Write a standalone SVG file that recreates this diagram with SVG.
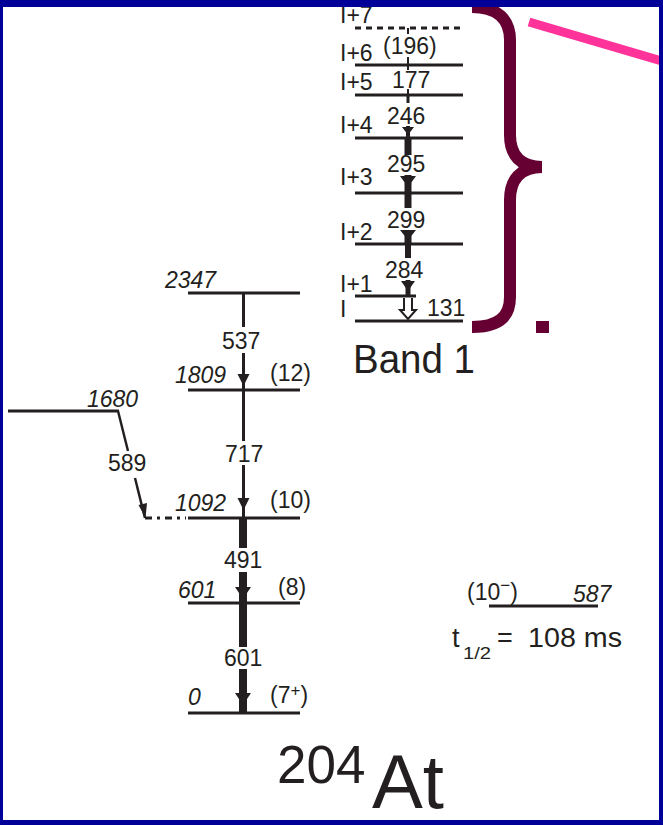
<svg xmlns="http://www.w3.org/2000/svg" width="663" height="825" viewBox="0 0 663 825">
<style>
text{font-family:"Liberation Sans",Arial,sans-serif;fill:#231f20}
.t{font-size:23px}
.e{font-size:23px;font-style:italic}
.lv{stroke:#231f20;stroke-width:3;fill:none}
.tr{stroke:#231f20;fill:none}
.ah{fill:#231f20}
</style>
<rect width="663" height="825" fill="#ffffff"/>

<g id="band1">
  <g id="level-I7"><line x1="355" y1="28" x2="463" y2="28" class="lv" stroke-dasharray="6 5"/><text class="t" x="340" y="23">I+7</text></g>
  <g id="level-I6"><line x1="355" y1="65" x2="463" y2="65" class="lv"/><text class="t" x="340" y="61">I+6</text></g>
  <g id="level-I5"><line x1="355" y1="95" x2="463" y2="95" class="lv"/><text class="t" x="340" y="90">I+5</text></g>
  <g id="level-I4"><line x1="355" y1="138" x2="463" y2="138" class="lv"/><text class="t" x="340" y="133">I+4</text></g>
  <g id="level-I3"><line x1="355" y1="193" x2="463" y2="193" class="lv"/><text class="t" x="340" y="185">I+3</text></g>
  <g id="level-I2"><line x1="355" y1="244" x2="463" y2="244" class="lv"/><text class="t" x="340" y="240">I+2</text></g>
  <g id="level-I1"><line x1="355" y1="296" x2="416" y2="296" class="lv"/><text class="t" x="340" y="292">I+1</text></g>
  <g id="level-I"><line x1="355" y1="321" x2="463" y2="321" class="lv"/><text class="t" x="340" y="317">I</text></g>
  <g id="band-label"><text x="353" y="373" font-size="40" textLength="122" lengthAdjust="spacingAndGlyphs">Band 1</text></g>
</g>

<g id="main">
  <g id="level-2347"><line x1="188" y1="293" x2="300" y2="293" class="lv"/><text class="e" x="165" y="288">2347</text></g>
  <g id="level-1809"><line x1="188" y1="390" x2="300" y2="390" class="lv"/><text class="e" x="175" y="383">1809</text><text class="t" x="270" y="381">(12)</text></g>
  <g id="level-1680"><line x1="8" y1="411" x2="119" y2="411" class="lv"/><text class="e" x="87" y="407">1680</text></g>
  <g id="level-1092"><line x1="188" y1="518" x2="300" y2="518" class="lv"/><line x1="145" y1="518" x2="186" y2="518" class="lv" stroke-dasharray="7 5 3 5"/><text class="e" x="175" y="511">1092</text><text class="t" x="270" y="508">(10)</text></g>
  <g id="level-601"><line x1="188" y1="603" x2="300" y2="603" class="lv"/><text class="e" x="178" y="598">601</text><text class="t" x="278" y="595">(8)</text></g>
  <g id="level-0"><line x1="188" y1="713" x2="300" y2="713" class="lv"/><text class="e" x="188" y="705">0</text><text class="t" x="270" y="703">(7<tspan font-size="17" dy="-7">+</tspan><tspan dy="7">)</tspan></text></g>
</g>

<g id="isomer">
  <line x1="489" y1="606" x2="598" y2="606" class="lv"/>
  <text class="t" x="467" y="600">(10<tspan font-size="17" dy="-9">−</tspan><tspan dy="9">)</tspan></text>
  <text class="e" x="573" y="602">587</text>
  <text x="452" y="647" font-size="27">t</text>
  <text x="463" y="659" font-size="17" textLength="28" lengthAdjust="spacingAndGlyphs">1/2</text>
  <text x="497" y="647" font-size="27">=</text>
  <text x="528" y="647" font-size="27" textLength="94" lengthAdjust="spacingAndGlyphs">108 ms</text>
</g>

<g id="connectors">
  <!-- band 1 -->
  <line x1="408" y1="28" x2="408" y2="34" class="tr" stroke-width="2"/>
  <line x1="408" y1="57" x2="408" y2="65" class="tr" stroke-width="2"/>
  <text class="t" x="383" y="54">(196)</text>
  <line x1="408" y1="65" x2="408" y2="70" class="tr" stroke-width="2"/>
  <line x1="408" y1="89" x2="408" y2="95" class="tr" stroke-width="2"/>
  <text class="t" x="392" y="88">177</text>
  <line x1="408" y1="95" x2="408" y2="103" class="tr" stroke-width="3"/>
  <line x1="408" y1="126" x2="408" y2="138" class="tr" stroke-width="4"/>
  <polygon points="402,127 414,127 408,135" class="ah"/>
  <text class="t" x="387" y="124">246</text>
  <line x1="408" y1="138" x2="408" y2="155" class="tr" stroke-width="7"/>
  <line x1="408" y1="175" x2="408" y2="193" class="tr" stroke-width="7"/>
  <polygon points="400,176 416,176 408,187" class="ah"/>
  <text class="t" x="387" y="172">295</text>
  <line x1="408" y1="193" x2="408" y2="208" class="tr" stroke-width="7"/>
  <line x1="408" y1="230" x2="408" y2="244" class="tr" stroke-width="7"/>
  <polygon points="400,230 416,230 408,240" class="ah"/>
  <text class="t" x="387" y="228">299</text>
  <line x1="408" y1="244" x2="408" y2="258" class="tr" stroke-width="6"/>
  <line x1="408" y1="280" x2="408" y2="296" class="tr" stroke-width="5"/>
  <polygon points="401,281 415,281 408,291" class="ah"/>
  <text class="t" x="385" y="278">284</text>
  <path d="M404,298 L404,310 L400,310 L408,319 L416,310 L412,310 L412,298" fill="#ffffff" stroke="#231f20" stroke-width="2"/>
  <text class="t" x="427" y="316">131</text>

  <!-- main cascade -->
  <line x1="243.5" y1="293" x2="243.5" y2="327" class="tr" stroke-width="3"/>
  <line x1="243.5" y1="353" x2="243.5" y2="390" class="tr" stroke-width="3"/>
  <polygon points="237.5,374 249.5,374 243.5,386" class="ah"/>
  <text class="t" x="222" y="349">537</text>
  <line x1="243.5" y1="390" x2="243.5" y2="441" class="tr" stroke-width="3"/>
  <line x1="243.5" y1="465" x2="243.5" y2="518" class="tr" stroke-width="3"/>
  <polygon points="237.5,498 249.5,498 243.5,510" class="ah"/>
  <text class="t" x="225" y="462">717</text>
  <line x1="243" y1="518" x2="243" y2="548" class="tr" stroke-width="8"/>
  <line x1="243" y1="572" x2="243" y2="603" class="tr" stroke-width="8"/>
  <polygon points="235,587 251,587 243,599" class="ah"/>
  <text class="t" x="224" y="568">491</text>
  <line x1="243" y1="603" x2="243" y2="647" class="tr" stroke-width="8"/>
  <line x1="243" y1="669" x2="243" y2="713" class="tr" stroke-width="8"/>
  <polygon points="235,693 251,693 243,705" class="ah"/>
  <text class="t" x="224" y="666">601</text>
  <!-- 589 -->
  <line x1="118" y1="411" x2="128" y2="451" class="tr" stroke-width="2.5"/>
  <line x1="135" y1="478" x2="145" y2="518" class="tr" stroke-width="2.5"/>
  <polygon points="138.5,505 147,503 145.5,518" class="ah"/>
  <text class="t" x="108" y="471">589</text>
</g>

<g id="brace">
  <path d="M472,7 C498,7 510,20 510,40 L510,135 C510,155 520,167 542,167 M542,167 C520,167 510,180 510,200 L510,297 C510,317 498,327 472,327" fill="none" stroke="#660033" stroke-width="12"/>
  <rect x="536" y="321" width="13" height="12" fill="#660033"/>
</g>
<line id="pink-line" x1="529" y1="22" x2="665" y2="62" stroke="#ff3399" stroke-width="9"/>

<g id="title"><text x="277" y="783" font-size="53">204</text><text x="372" y="808" font-size="76" textLength="72" lengthAdjust="spacingAndGlyphs">At</text></g>

<g id="frame" fill="#000099">
  <rect x="0" y="0" width="663" height="7"/>
  <rect x="0" y="0" width="3" height="825"/>
  <rect x="659" y="0" width="4" height="825"/>
  <rect x="0" y="820" width="663" height="5"/>
</g>
</svg>
